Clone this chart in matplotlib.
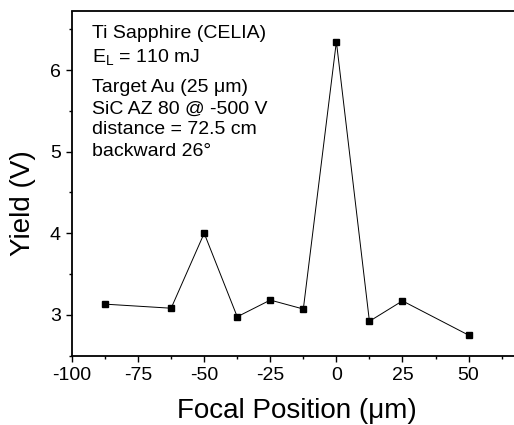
import numpy as np
import matplotlib
matplotlib.use('Agg')
import matplotlib.pyplot as plt
from matplotlib.ticker import MultipleLocator

plt.rcParams.update({'font.family': ['Liberation Sans', 'DejaVu Sans'],
                     'mathtext.fontset': 'custom',
                     'mathtext.rm': 'Liberation Sans',
                     'mathtext.it': 'Liberation Sans',
                     'axes.unicode_minus': False})

# ==== Data ====
focal_pos = [-87.5, -62.5, -50, -37.5, -25, -12.5, 0, 12.5, 25, 50]
yield_v = [3.13, 3.08, 4.00, 2.975, 3.18, 3.07, 6.35, 2.92, 3.17, 2.75]

info_lines = ['Ti Sapphire (CELIA)', 'E$_\\mathrm{L}$ = 110 mJ',
              'Target Au (25 \u03bcm)', 'SiC AZ 80 @ -500 V',
              'distance = 72.5 cm', 'backward 26\u00b0']
info_ypx = [33, 57, 88, 109, 130, 151]   # line centres, pixels from top

W, H = 514, 425
fig = plt.figure(figsize=(W/100, H/100), dpi=100)
ax = fig.add_axes([72/W, 1 - 355.5/H, 441.5/W, 344/H])

ax.plot(focal_pos, yield_v, color='black', lw=0.7, marker='s',
        markersize=5, markerfacecolor='black', markeredgecolor='black')

ax.set_xlim(-100, 67)
ax.set_ylim(2.5, 6.72)
ax.xaxis.set_major_locator(MultipleLocator(25))
ax.xaxis.set_minor_locator(MultipleLocator(12.5))
ax.yaxis.set_major_locator(MultipleLocator(1))
ax.yaxis.set_minor_locator(MultipleLocator(0.5))
ax.tick_params(which='major', direction='out', length=4.5, width=1.0,
               labelsize=14)
ax.tick_params(which='minor', direction='out', length=2.5, width=1.0)
ax.tick_params(top=False, right=False, which='both')
for s in ax.spines.values():
    s.set_linewidth(1.3)
ax.spines['right'].set_visible(False)

ax.set_xlabel('Focal Position (\u03bcm)', fontsize=20)
ax.xaxis.label.set_va('baseline')
ax.xaxis.set_label_coords(0.51, -(418.5 - 355.5)/344)
ax.set_ylabel('Yield (V)', fontsize=20)
ax.yaxis.label.set_va('center')
ax.yaxis.set_label_coords((22.5 - 72)/441.5, 0.444)

for t, ypx in zip(info_lines, info_ypx):
    fig.text(92/W, 1 - ypx/H, t, fontsize=14, va='center', ha='left')

fig.savefig('out.png', dpi=100)
